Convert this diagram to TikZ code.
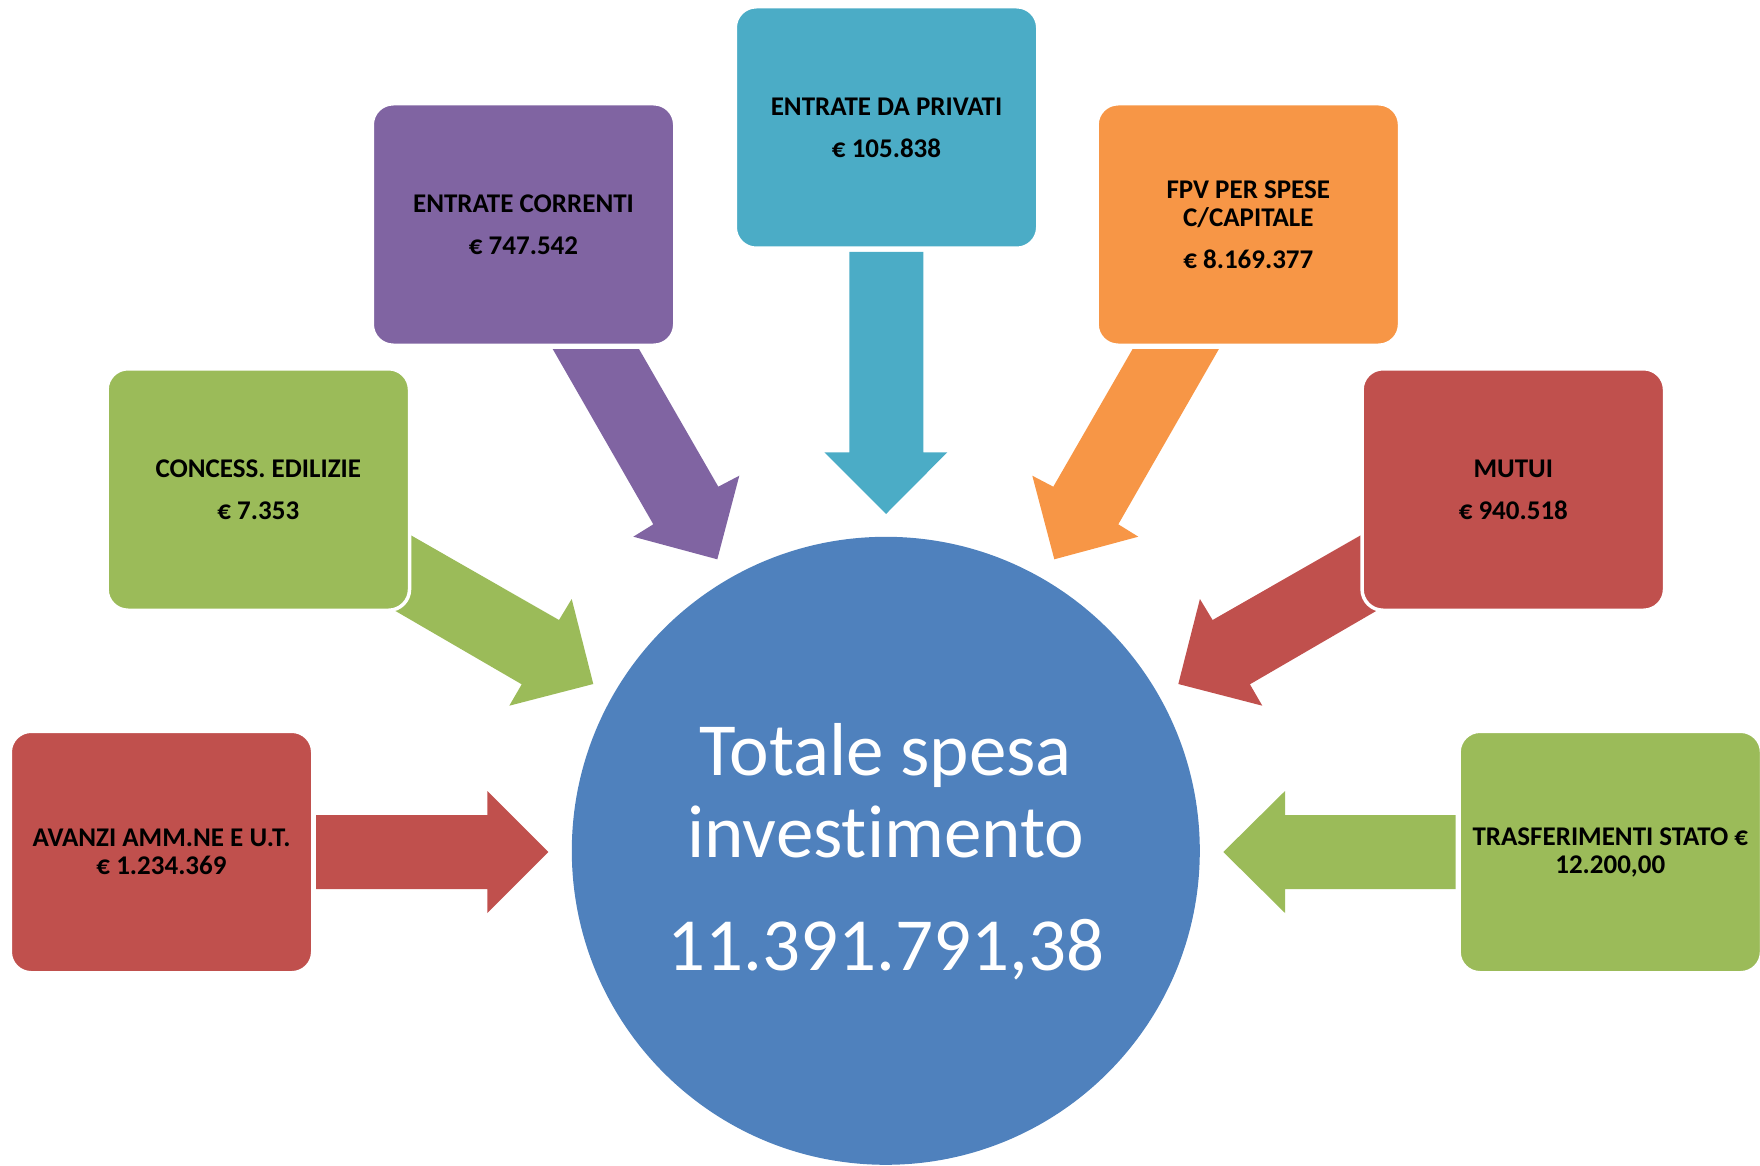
\documentclass[tikz,border=0pt]{standalone}
\usepackage{fontspec}
\setmainfont{Carlito}[Ligatures=NoCommon]

\definecolor{blu}{HTML}{4F81BD}
\definecolor{rosso}{HTML}{C0504D}
\definecolor{verde}{HTML}{9BBB59}
\definecolor{viola}{HTML}{8064A2}
\definecolor{acqua}{HTML}{4BACC6}
\definecolor{arancio}{HTML}{F79646}

\begin{document}
\begin{tikzpicture}[x=1pt, y=-1pt,
    riquadro/.style={rounded corners=21pt, draw=white, line width=3.5pt,
        minimum width=302.5pt, minimum height=241.5pt, inner sep=0pt,
        align=center, font=\bfseries\fontsize{27}{28}\selectfont},
    totale/.style={anchor=base, inner sep=0pt, text=white,
        font=\fontsize{75}{82}\selectfont}]
    \useasboundingbox (0,0) rectangle (1760,1166);

    % --- Cerchio centrale ---
    \node[circle, fill=blu, minimum size=628pt, inner sep=0pt] (centro) at (885.8,850.8) {};
    \node[totale] (riga1) at (885.8,775) {Totale spesa};
    \node[totale] (riga2) at (885.8,857) {investimento};
    \node[totale] (importo) at (885.8,970) {11.391.791,38};

    % --- Frecce orizzontali e verticale ---
    \fill[acqua] (849.3,252) -- (923.3,252) -- (923.3,452.3) -- (947.3,452.3)
        -- (886,514) -- (824.3,452.3) -- (849.3,452.3) -- cycle;
    \fill[rosso] (316,815) -- (487.3,815) -- (487.3,791) -- (548.3,852)
        -- (487.3,913) -- (487.3,889) -- (316,889) -- cycle;
    \fill[verde] (1455.7,815) -- (1285,815) -- (1285,791) -- (1223.3,852)
        -- (1285,913) -- (1285,889) -- (1455.7,889) -- cycle;

    % --- Frecce oblique ---
    \fill[viola] (552.7,349) -- (639,349) -- (718.3,486.7) -- (739.3,475.7)
        -- (717.3,559.3) -- (633.3,536.7) -- (653.3,524.3) -- cycle;
    \fill[arancio] (1218.9,349) -- (1132.6,349) -- (1053.3,486.7) -- (1032.3,475.7)
        -- (1054.3,559.3) -- (1138.3,536.7) -- (1118.3,524.3) -- cycle;
    \fill[verde] (380,517.6) -- (559,620) -- (571.7,599) -- (593.3,684)
        -- (509.3,705.7) -- (521.7,684.3) -- (380,602) -- cycle;
    \fill[rosso] (1391.6,517.6) -- (1212.6,620) -- (1199.9,599) -- (1178.3,684)
        -- (1262.3,705.7) -- (1249.9,684.3) -- (1391.6,602) -- cycle;

    % --- Riquadri ---
    \node[riquadro, fill=acqua] (privati) at (886.5,127.5) {ENTRATE DA PRIVATI\\[14pt]€ 105.838};
    \node[riquadro, fill=viola] (correnti) at (523.5,224.5) {ENTRATE CORRENTI\\[14pt]€ 747.542};
    \node[riquadro, fill=arancio] (fpv) at (1248.3,224.5) {FPV PER SPESE\\C/CAPITALE\\[14pt]€ 8.169.377};
    \node[riquadro, fill=verde] (concess) at (258.3,489.5) {CONCESS. EDILIZIE\\[14pt]€ 7.353};
    \node[riquadro, fill=rosso] (mutui) at (1513.3,489.5) {MUTUI\\[14pt]€ 940.518};
    \node[riquadro, fill=rosso] (avanzi) at (161.5,852) {AVANZI AMM.NE E U.T.\\€ 1.234.369};
    \node[riquadro, fill=verde] (trasferimenti) at (1610.3,852) {TRASFERIMENTI STATO €\\12.200,00};

\end{tikzpicture}
\end{document}
